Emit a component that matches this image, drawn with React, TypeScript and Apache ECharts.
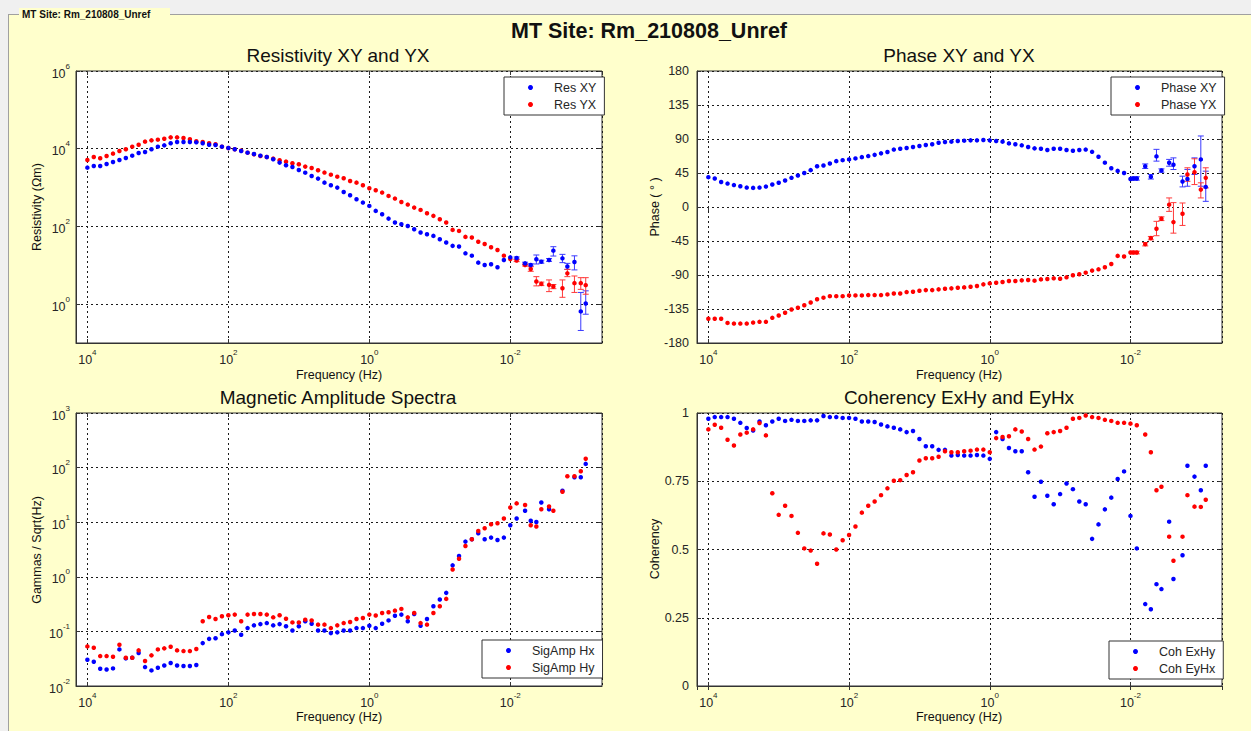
import React, { useEffect, useRef } from 'react';
import * as echarts from 'echarts';

// ---------- DATA ----------
// Frequencies (Hz) of the main band and of the long-period tail
const FREQ_MAIN = [
  10000, 8111, 6579, 5337, 4329, 3511, 2848, 2310, 1874, 1520, 1233,
  1000, 811.1, 657.9, 533.7, 432.9, 351.1, 284.8, 231.0, 187.4, 152.0, 123.3,
  100, 81.11, 65.79, 53.37, 43.29, 35.11, 28.48, 23.10, 18.74, 15.20, 12.33,
  10, 8.111, 6.579, 5.337, 4.329, 3.511, 2.848, 2.310, 1.874, 1.520, 1.233,
  1, 0.8111, 0.6579, 0.5337, 0.4329, 0.3511, 0.2848, 0.2310, 0.1874, 0.1520, 0.1233,
  0.1, 0.08111, 0.06579, 0.05337, 0.04329, 0.03511, 0.02848, 0.02310, 0.01874, 0.01520, 0.01233,
  0.01,
];
const FREQ_TAIL = [0.00912, 0.00813, 0.00617, 0.00513, 0.00427, 0.00363, 0.00282, 0.00245, 0.00182, 0.00155, 0.00123, 0.001, 0.000851];

// Apparent resistivity (ohm m)
const RES_XY = [
  3260, 3600, 3600, 4050, 4560, 5130, 5780, 6630, 7770, 8240, 9660,
  11300, 12200, 13800, 14900, 14900, 14900, 14600, 13800, 12700, 12500, 11300,
  10400, 9660, 8750, 7920, 7330, 6630, 6140, 5350, 4390, 3740, 3390,
  2840, 2420, 1990, 1700, 1340, 1150, 998, 772, 634, 500, 411,
  337, 251, 206, 159, 126, 114, 103, 84.8, 69.6, 63.0, 57.1,
  46.9, 38.5, 31.6, 30.4, 20.3, 17.7, 11.7, 10.2, 10.6, 8.9, 13.7,
  16.0,
];
const RES_YX = [
  5130, 6130, 5670, 6510, 7470, 8750, 9660, 11300, 12700, 15200, 16400,
  17100, 18100, 19600, 19600, 18900, 17500, 15500, 14900, 13800, 13000, 11300,
  10400, 9660, 8920, 7920, 7180, 6500, 6140, 5560, 5030, 4650, 4210,
  3970, 3460, 3200, 2790, 2430, 2150, 1910, 1730, 1480, 1340, 1150,
  960, 853, 743, 610, 521, 427, 365, 305, 266, 218, 187,
  153, 126, 81.5, 76.7, 53.8, 51.8, 40.4, 35.2, 29, 24.7, 17.7,
  14.5,
];
const RES_XY_TAIL = [null, 15.4, 11.2, 10.2, 14.3, 12.4, 13.7, 23.8, 15.1, 9.3, 12.2, 0.65, 1.04];
const RES_XY_LO = [null, 14.5, 10.5, 9.6, 10.8, 11.3, 12.6, 17.3, 11.7, 7.8, 7.6, 0.21, 0.55];
const RES_XY_HI = [null, 16.4, 12.0, 10.9, 18.4, 13.5, 14.9, 30.1, 19.1, 11.2, 17.5, 2.0, 2.2];
const RES_YX_TAIL = [null, 13.2, 10.2, 8.05, 3.81, 3.32, 3.13, 2.84, 2.57, 6.2, 3.47, 3.47, 3.08];
const RES_YX_LO = [null, 12.4, 9.6, 7.0, 2.95, 3.0, 2.1, 2.5, 1.5, 5.1, 2.0, 2.4, 1.8];
const RES_YX_HI = [null, 14.0, 10.8, 9.2, 5.1, 3.7, 4.2, 3.2, 4.2, 7.9, 5.3, 4.8, 4.8];

// Phase (degrees)
const PHASE_XY = [
  39.5, 37.7, 33, 31, 29, 27.5, 25.7, 25.3, 25.7, 27, 29.7,
  32, 35, 38.6, 41.7, 45, 48.8, 54, 55, 57.6, 60.7, 62,
  63, 64.3, 66, 67.4, 69, 71, 72.7, 76, 77, 78, 79.4,
  80.7, 82, 83, 85, 86, 86.5, 87.4, 87.8, 88.2, 88.2, 88.7,
  88.2, 87.4, 86.5, 84.2, 83, 81.6, 79.4, 77.6, 77, 75.4, 77,
  77, 75.4, 74.5, 75.5, 76, 73, 66.6, 58.7, 51.3, 47.8, 45,
  37,
];
const PHASE_YX = [
  -148, -148, -148, -153.4, -154.3, -154.3, -154.3, -153, -152, -152, -146.7,
  -143.6, -140, -135.7, -133.4, -130, -126.4, -122, -120, -118, -118, -118,
  -117, -117, -117, -116.6, -116.6, -116.6, -115.7, -114.4, -114.4, -112.6, -112.2,
  -110.8, -110, -110, -109, -108.2, -107.7, -106.8, -106.4, -105.5, -104.6, -102.4,
  -101.1, -100.2, -99.3, -98, -98, -97.1, -96.6, -97.5, -95.8, -95.3, -94.4,
  -94.9, -93.1, -90.4, -89.1, -86.9, -84.2, -82.5, -79.8, -75.4, -64.7, -65.6,
  -60.3,
];
const PHASE_XY_TAIL = [37.7, 37.7, 54, 40, 67, 48.3, 58.5, 56, 33.7, 37, 54, 63, 26.6];
const PHASE_XY_LO = [35.5, 35.5, 51, 37, 60.7, 46, 54, 49.6, 26.6, 27.5, 43, 27.5, 7.5];
const PHASE_XY_HI = [40, 40, 57, 43, 76.3, 50.5, 63, 65, 40.8, 49.7, 65, 94, 47.4];
const PHASE_YX_TAIL = [-60.3, -60.3, -49.2, -41.2, -28.8, -15.5, 3.1, -20, -8.9, 43, 46, 23, 38.6];
const PHASE_YX_LO = [-62, -62, -51.5, -43.5, -38, -18, -5.8, -34.6, -24.4, 34, 29.7, 12, 25.3];
const PHASE_YX_HI = [-58.5, -58.5, -47, -39, -19, -13, 12, 5.8, 5.3, 51.9, 63.8, 32, 51.9];

// Magnetic amplitude spectra (gammas / sqrt(Hz))
const SIG_HX = [
  0.0303, 0.0278, 0.0207, 0.0201, 0.021, 0.0468, 0.032, 0.033, 0.0401, 0.0222, 0.0193,
  0.0216, 0.0238, 0.0263, 0.0238, 0.0232, 0.0232, 0.0242, 0.061, 0.073, 0.075, 0.089,
  0.096, 0.104, 0.087, 0.115, 0.129, 0.136, 0.142, 0.129, 0.136, 0.124, 0.104,
  0.124, 0.153, 0.138, 0.104, 0.104, 0.093, 0.096, 0.104, 0.104, 0.115, 0.115,
  0.127, 0.115, 0.138, 0.159, 0.194, 0.203, 0.153, 0.208, 0.127, 0.169, 0.288,
  0.383, 0.508, 1.62, 2.4, 4.41, 4.86, 6.28, 4.86, 5.22, 4.73, 5.22,
  8.81,
];
const SIG_HY = [
  0.0531, 0.0502, 0.0353, 0.0353, 0.0343, 0.057, 0.033, 0.033, 0.0449, 0.0287, 0.0364,
  0.0468, 0.0489, 0.0524, 0.0449, 0.0436, 0.0436, 0.0475, 0.153, 0.184, 0.169, 0.189,
  0.197, 0.203, 0.153, 0.203, 0.208, 0.208, 0.203, 0.181, 0.197, 0.171, 0.146,
  0.146, 0.164, 0.159, 0.133, 0.133, 0.115, 0.129, 0.142, 0.149, 0.169, 0.176,
  0.203, 0.195, 0.217, 0.224, 0.24, 0.258, 0.181, 0.217, 0.142, 0.133, 0.217,
  0.288, 0.394, 1.36, 2.14, 3.67, 4.86, 6.92, 7.76, 9.19, 9.59, 11.7,
  18.6,
];
const SIG_HX_TAIL = [null, 11.7, 16.2, 10.6, 10.1, 23, 17.3, null, 37.7, null, 66.4, 66.4, 117];
const SIG_HY_TAIL = [null, 22.1, 20.6, 8.81, 8.32, 17.3, 19.4, 16.2, 36.2, 69.3, 69.3, 85.6, 145];

// Coherency
const COH_EXHY = [
  0.979, 0.985, 0.985, 0.985, 0.979, 0.964, 0.945, 0.936, 0.969, 0.955, 0.969,
  0.979, 0.971, 0.975, 0.971, 0.971, 0.973, 0.973, 0.989, 0.985, 0.985, 0.982,
  0.982, 0.979, 0.969, 0.969, 0.967, 0.958, 0.951, 0.946, 0.94, 0.93, 0.934,
  0.905, 0.878, 0.878, 0.865, 0.865, 0.844, 0.846, 0.844, 0.844, 0.846, 0.844,
  0.832, 0.93, 0.905, 0.872, 0.86, 0.86, 0.783, 0.693, 0.748, 0.697, 0.666,
  0.703, 0.742, 0.721, 0.676, 0.666, 0.539, 0.592, 0.647, 0.69, 0.758, 0.786,
  0.623,
];
const COH_EYHX = [
  0.94, 0.957, 0.946, 0.902, 0.881, 0.921, 0.928, 0.94, 0.963, 0.918, 0.706,
  0.627, 0.66, 0.623, 0.561, 0.504, 0.496, 0.448, 0.559, 0.555, 0.5, 0.534,
  0.553, 0.584, 0.635, 0.66, 0.676, 0.699, 0.724, 0.752, 0.754, 0.773, 0.783,
  0.826, 0.834, 0.834, 0.84, 0.86, 0.856, 0.856, 0.86, 0.862, 0.866, 0.866,
  0.856, 0.908, 0.912, 0.915, 0.94, 0.932, 0.905, 0.866, 0.877, 0.926, 0.93,
  0.934, 0.946, 0.979, 0.982, 0.991, 0.985, 0.982, 0.975, 0.971, 0.964, 0.964,
  0.961,
];
const COH_EXHY_TAIL = [null, 0.504, 0.3, 0.281, 0.373, 0.355, 0.602, 0.392, 0.479, 0.807, 0.767, 0.717, 0.807];
const COH_EYHX_TAIL = [null, 0.955, 0.921, 0.856, 0.717, 0.73, 0.547, 0.459, 0.547, 0.699, 0.657, 0.656, 0.682];

// ---------- STYLE ----------
const FONT = '"Liberation Sans", Arial, Helvetica, sans-serif';
const BLUE = '#0000ff';
const RED = '#ff0000';
const BLUE_BAR = '#3a3aff';
const RED_BAR = '#ff3a3a';
const TXT = '#262626';
const GRIDS = [
  { left: 76, top: 71, width: 526, height: 272 },
  { left: 697, top: 71, width: 525, height: 272 },
  { left: 76, top: 413, width: 526, height: 273 },
  { left: 697, top: 413, width: 525, height: 273 },
];

function pts(main: (number | null)[], tail: (number | null)[]) {
  const out: number[][] = [];
  main.forEach((v, i) => { if (v != null) out.push([FREQ_MAIN[i], v]); });
  tail.forEach((v, i) => { if (v != null) out.push([FREQ_TAIL[i], v]); });
  return out;
}
function bars(lo: (number | null)[], hi: (number | null)[]) {
  const out: number[][] = [];
  lo.forEach((l, i) => { const h = hi[i]; if (l != null && h != null) out.push([FREQ_TAIL[i], l, h]); });
  return out;
}

const rich = {
  b: { fontSize: 12.5, fontFamily: FONT, color: TXT, lineHeight: 18, verticalAlign: 'bottom' },
  e: { fontSize: 8, fontFamily: FONT, color: TXT, lineHeight: 8, verticalAlign: 'top' },
};
const powLabel = (v: number) => `{b|10}{e|${Math.round(Math.log10(v))}}`;
const splitStyle = { show: true, lineStyle: { color: '#1a1a1a', type: [2, 3] as any, width: 1 } };
const tickStyle = { show: true, inside: true, length: 4, lineStyle: { color: '#333' } };

function xAxisMain(i: number) {
  return {
    type: 'log', logBase: 100, gridIndex: i, inverse: true, min: 0.0005, max: 14500, position: 'bottom',
    axisLine: { show: true, onZero: false, lineStyle: { color: '#333' } },
    axisTick: tickStyle,
    axisLabel: { formatter: powLabel, rich, showMinLabel: false, showMaxLabel: false, margin: 5 },
    splitLine: splitStyle,
  };
}
function xAxisTop(i: number) {
  return {
    type: 'log', logBase: 100, gridIndex: i, inverse: true, min: 0.0005, max: 14500, position: 'top',
    axisLine: { show: false }, axisTick: tickStyle, axisLabel: { show: false }, splitLine: { show: false },
  };
}
const numLabel = { fontSize: 12.5, fontFamily: FONT, color: TXT, margin: 8 };
const Y_MAIN = [
  { type: 'log', logBase: 100, min: 0.1, max: 1e6, axisLabel: { formatter: powLabel, rich, showMinLabel: false, margin: 6 } },
  { type: 'value', min: -180, max: 180, interval: 45, axisLabel: { ...numLabel } },
  { type: 'log', logBase: 10, min: 0.01, max: 1000, axisLabel: { formatter: powLabel, rich, margin: 6 } },
  { type: 'value', min: 0, max: 1, interval: 0.25, axisLabel: { ...numLabel, formatter: (v: number) => String(v) } },
];

function errSeries(name: string, xi: number, data: number[][], color: string) {
  return {
    name, type: 'custom', xAxisIndex: xi, yAxisIndex: xi, data, z: 3, silent: true, clip: true,
    encode: { x: 0, y: [1, 2] },
    renderItem: (_p: any, api: any) => {
      const x = api.value(0);
      const a = api.coord([x, api.value(1)]);
      const b = api.coord([x, api.value(2)]);
      const w = 3;
      const st = { stroke: color, lineWidth: 1 };
      return {
        type: 'group',
        children: [
          { type: 'line', shape: { x1: a[0], y1: a[1], x2: b[0], y2: b[1] }, style: st },
          { type: 'line', shape: { x1: a[0] - w, y1: a[1], x2: a[0] + w, y2: a[1] }, style: st },
          { type: 'line', shape: { x1: b[0] - w, y1: b[1], x2: b[0] + w, y2: b[1] }, style: st },
        ],
      };
    },
  };
}
function scat(name: string, xi: number, data: number[][], color: string, z = 4) {
  return {
    name, type: 'scatter', xAxisIndex: xi, yAxisIndex: xi, data, symbol: 'circle', symbolSize: 4.5, z,
    itemStyle: { color, opacity: 1 }, emphasis: { disabled: true },
  };
}

const legendCommon = {
  orient: 'vertical', icon: 'circle', itemWidth: 5, itemHeight: 5, itemGap: 4,
  padding: [4, 8, 4, 24], backgroundColor: '#ffffff', borderColor: '#333', borderWidth: 1,
  textStyle: { fontSize: 12.5, fontFamily: FONT, color: TXT, lineHeight: 13, padding: [0, 0, 0, 16] }, selectedMode: false,
};

function txt(text: string, x: number, y: number, size: number, weight = 'normal', rot = 0) {
  return {
    type: 'text', x, y, rotation: rot, silent: true, z: 10,
    style: { text, fontSize: size, fontWeight: weight, fontFamily: FONT, fill: '#111', align: 'center', verticalAlign: 'middle' },
  };
}

export default function App() {
  const ref = useRef<HTMLDivElement>(null);
  useEffect(() => {
    if (!ref.current) return;
    const chart = echarts.init(ref.current, undefined, { renderer: 'svg' });
    const option: any = {
      animation: false,
      backgroundColor: '#ffffcc',
      grid: GRIDS.map((g) => ({ ...g, show: true, backgroundColor: '#ffffff', borderColor: '#333', borderWidth: 1, containLabel: false })),
      xAxis: [0, 1, 2, 3].map(xAxisMain).concat([0, 1, 2, 3].map(xAxisTop) as any),
      yAxis: [
        ...Y_MAIN.map((y, i) => ({
          ...y, gridIndex: i, position: 'left',
          axisLine: { show: true, onZero: false, lineStyle: { color: '#333' } },
          axisTick: tickStyle, splitLine: splitStyle,
        })),
        ...Y_MAIN.map((y, i) => ({
          type: y.type, logBase: (y as any).logBase, min: y.min, max: y.max, interval: (y as any).interval,
          gridIndex: i, position: 'right',
          axisLine: { show: false }, axisTick: tickStyle, axisLabel: { show: false }, splitLine: { show: false },
        })),
      ],
      legend: [
        { ...legendCommon, data: ['Res XY', 'Res YX'], left: 504, top: 77 },
        { ...legendCommon, data: ['Phase XY', 'Phase YX'], left: 1111, top: 77 },
        { ...legendCommon, data: ['SigAmp Hx', 'SigAmp Hy'], left: 482, top: 640 },
        { ...legendCommon, data: ['Coh ExHy', 'Coh EyHx'], left: 1109, top: 641 },
      ],
      series: [
        errSeries('err Res XY', 0, bars(RES_XY_LO, RES_XY_HI), BLUE_BAR),
        errSeries('err Res YX', 0, bars(RES_YX_LO, RES_YX_HI), RED_BAR),
        scat('Res YX', 0, pts(RES_YX, RES_YX_TAIL), RED, 4),
        scat('Res XY', 0, pts(RES_XY, RES_XY_TAIL), BLUE, 5),
        errSeries('err Phase XY', 1, bars(PHASE_XY_LO, PHASE_XY_HI), BLUE_BAR),
        errSeries('err Phase YX', 1, bars(PHASE_YX_LO, PHASE_YX_HI), RED_BAR),
        scat('Phase XY', 1, pts(PHASE_XY, PHASE_XY_TAIL), BLUE),
        scat('Phase YX', 1, pts(PHASE_YX, PHASE_YX_TAIL), RED),
        scat('SigAmp Hx', 2, pts(SIG_HX, SIG_HX_TAIL), BLUE),
        scat('SigAmp Hy', 2, pts(SIG_HY, SIG_HY_TAIL), RED),
        scat('Coh ExHy', 3, pts(COH_EXHY, COH_EXHY_TAIL), BLUE),
        scat('Coh EyHx', 3, pts(COH_EYHX, COH_EYHX_TAIL), RED),
      ],
      graphic: [
        { type: 'rect', silent: true, shape: { x: 0, y: 0, width: 1251, height: 14 }, style: { fill: '#f0f0f0' } },
        { type: 'rect', silent: true, shape: { x: 0, y: 0, width: 8, height: 731 }, style: { fill: '#f0f0f0' } },
        { type: 'line', silent: true, shape: { x1: 8, y1: 14.5, x2: 1251, y2: 14.5 }, style: { stroke: '#a0a0a0', lineWidth: 1 } },
        { type: 'line', silent: true, shape: { x1: 8.5, y1: 14, x2: 8.5, y2: 731 }, style: { stroke: '#a0a0a0', lineWidth: 1 } },
        { type: 'rect', silent: true, shape: { x: 19, y: 8, width: 151, height: 12 }, style: { fill: '#ffffcc' } },
        {
          type: 'text', x: 22, y: 14, silent: true,
          style: { text: 'MT Site: Rm_210808_Unref', fontSize: 10, fontWeight: 'bold', fontFamily: FONT, fill: '#111', align: 'left', verticalAlign: 'middle' },
        },
        txt('MT Site: Rm_210808_Unref', 649, 31, 21.5, 'bold'),
        txt('Resistivity XY and YX', 338, 55, 19),
        txt('Phase XY and YX', 959, 55, 19),
        txt('Magnetic Amplitude Spectra', 338, 397, 19),
        txt('Coherency ExHy and EyHx', 959, 397, 19),
        txt('Frequency (Hz)', 339, 375, 12.5),
        txt('Frequency (Hz)', 959, 375, 12.5),
        txt('Frequency (Hz)', 339, 717, 12.5),
        txt('Frequency (Hz)', 959, 717, 12.5),
        txt('Resistivity (Ωm)', 37, 207, 12.5, 'normal', Math.PI / 2),
        txt('Phase ( ° )', 655, 207, 12.5, 'normal', Math.PI / 2),
        txt('Gammas / Sqrt(Hz)', 37, 550, 12.5, 'normal', Math.PI / 2),
        txt('Coherency', 655, 549, 12.5, 'normal', Math.PI / 2),
      ],
    };
    chart.setOption(option);
    return () => chart.dispose();
  }, []);
  return <div ref={ref} style={{ position: 'fixed', left: 0, top: 0, width: 1251, height: 731 }} />;
}
